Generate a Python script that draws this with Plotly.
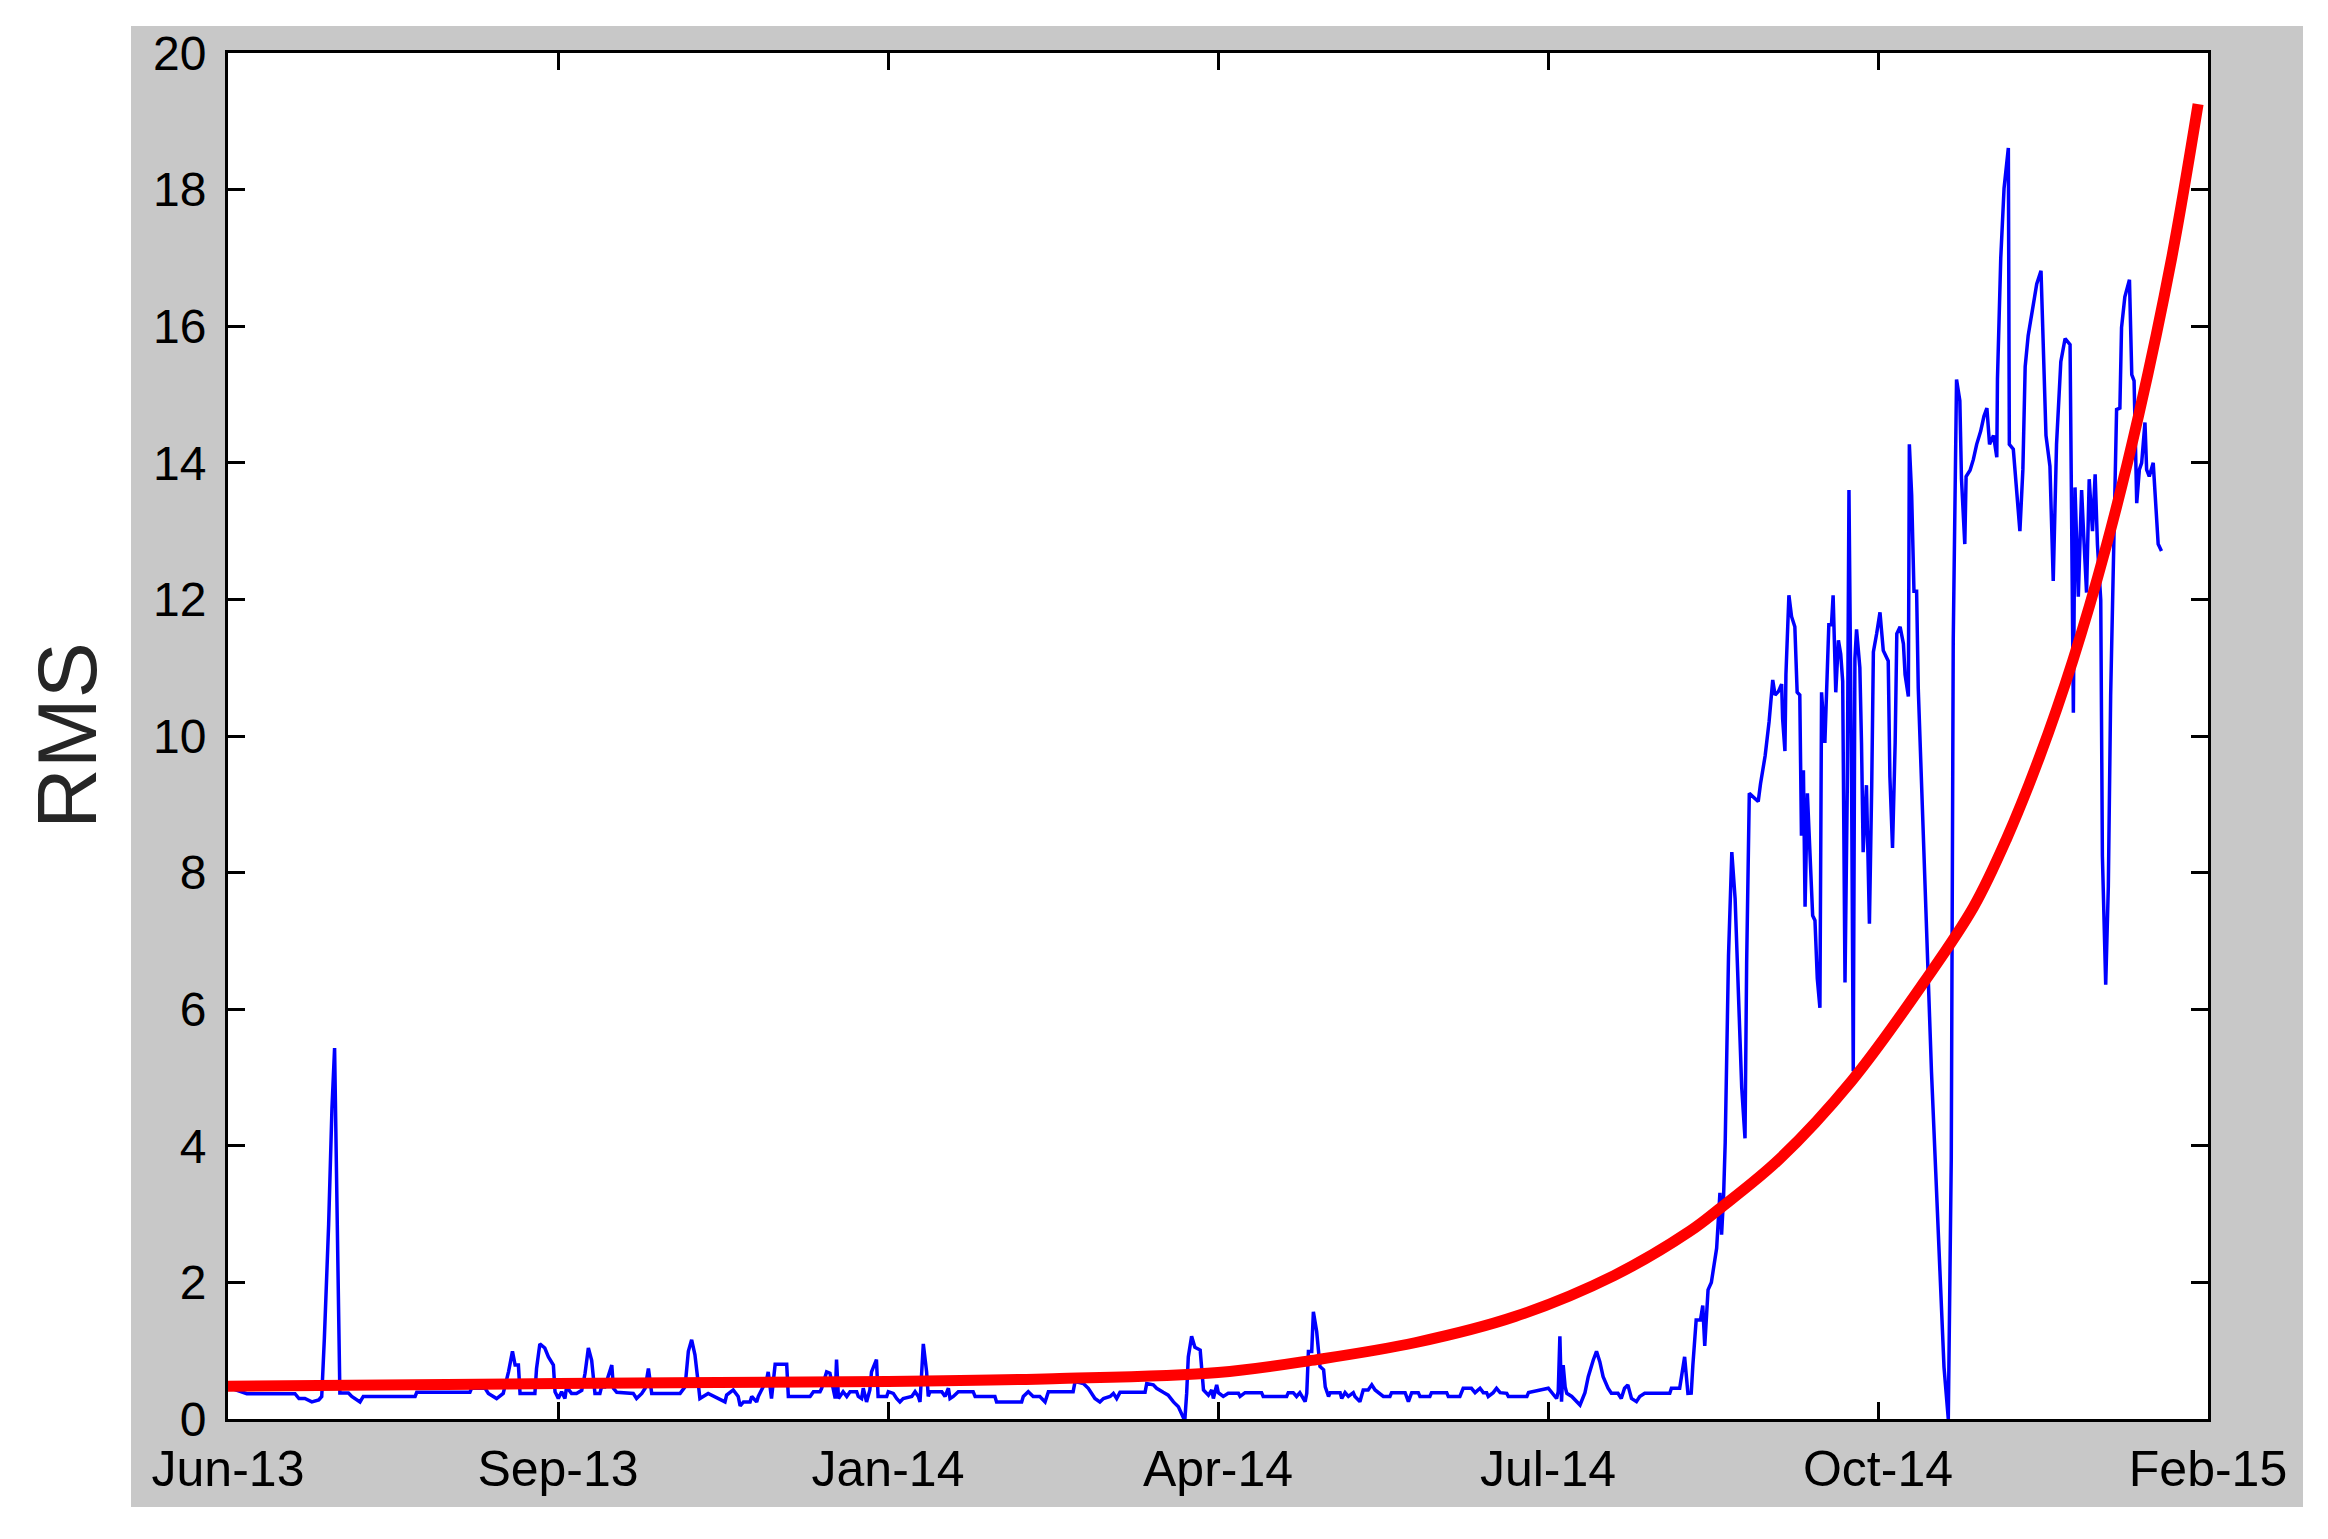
import pandas as pd
import plotly.graph_objects as go

# ---------------- data ----------------
start_date = "2013-06-16"          # day 0 of the series

blue_days = [
    1, 5.7, 15.2, 20.3, 21.5, 23.3, 25.4, 27.5, 28.4, 29.2, 30.5, 31.5, 32.3, 33.2, 33.9,
    36.5, 37.5, 40, 41, 56.7, 57.2, 73.3, 73.8, 77.9, 78.9, 81.4, 83.4, 85, 86.2, 87, 88,
    88.5, 93, 93.5, 94.5, 96, 97.1, 98.6, 99.1, 100.1, 101.1, 102.1, 102.6, 104.1, 105.6,
    107.2, 108.2, 109.2, 110.2, 111.2, 112.7, 113.2, 114.2, 116.3, 116.8, 117.8, 122.8,
    123.8, 125.4, 126.4, 127.4, 128.4, 137, 138.5, 139.5, 140.5, 141.5, 142.5, 143, 145.5,
    148.6, 150.6,
    151.1, 153.1, 154.6, 155.2, 156.2, 158.2, 158.7, 160.2, 160.7, 161.7, 163.2, 163.7,
    164.7, 165.8, 169.3, 169.8, 176.4, 177.4, 179.4, 179.9, 181.4, 182.4, 184, 184.4, 185,
    186.4, 187.5, 188.5, 190.5, 191, 192, 192.5, 193.5, 194.5, 195, 196.5, 197, 199.6,
    200.1, 201.6, 202.6, 203.6, 204.6, 207.2, 208.2, 209.2, 209.7, 210.7, 211.7, 212.2,
    212.7, 216.3, 217.3, 218.3, 218.8, 219.8, 221.3, 225.8, 226.4, 232.4, 232.9, 240.5,
    241, 242.5, 244, 246, 247.6, 248.6, 256.1, 256.7, 259.2, 260.7, 261.7, 262.7, 264.2,
    265.3, 267.3, 268.3, 269.3, 270.3, 277.9, 278.4, 280.4, 281.4, 283.4, 284.9, 286.5,
    288, 289.5, 290, 290.5, 291, 292, 293, 294.6, 295.6, 297.1, 298.1, 298.6, 299.6,
    300.1, 301.6, 303.1, 306.2, 306.7, 308.2, 313.2, 313.7, 320.8, 321.3, 322.8, 323.8,
    324.8, 326.4, 326.9, 327.4, 328.4, 328.9, 329.9, 330.9, 332, 332.5, 333.5, 334, 337,
    337.5, 338.5, 339.5, 341, 341.5, 343, 344, 345.5, 346.6, 347.6, 348.6, 350.1, 352.1,
    352.6, 356.7, 357.2, 357.7, 358.7, 360.7, 361.2, 364.2, 364.7, 369.3, 369.8, 373.3,
    374.3, 376.8, 377.9, 379.4, 380.4, 381.4, 381.9, 383.4, 384.4, 385.5, 387.5, 388,
    393.6, 394.1, 400.1, 401.1, 402.6, 403.1, 403.6, 404.1, 404.6, 405.2, 405.7, 407.2,
    408.7, 409.7, 411.2, 412.2, 413.7, 414.7, 415.7, 416.7, 418.2, 419.2, 421.2, 422.2,
    423.2, 424.2, 425.3, 426.8, 427.8, 429.3, 436.9, 437.4, 439.9, 440.4, 441.4, 442.4,
    443.4, 443.9, 444.9, 446.2, 446.9, 447.5, 448.5, 449.5, 451.1, 452.1, 452.6, 453.2,
    453.7, 454.7, 455.7, 456.7, 457.7, 458.7, 459.7, 460.2, 461, 462.2, 463.7, 464.4,
    465.8, 467, 468.1, 468.8, 469.8, 470.8, 471.1, 471.8, 472.1, 473, 473.8, 474.8, 475.5,
    476.3, 476.8, 477.4, 477.9, 478.6, 479.4, 480.2, 480.9, 481.6, 482.4, 482.9, 483.9,
    484.4, 485.1, 485.9, 486.4, 487.2, 488, 488.7, 489.3, 490, 490.7, 491.2, 492, 492.5,
    493, 493.5, 494.5, 495, 495.5, 496.5, 497.4, 498.1, 498.6, 499.6, 500.6, 501.6, 503.1,
    503.6, 504.4, 505.2, 505.7, 506.7, 507.7, 508.2, 509.2, 509.5, 510.2, 510.9, 511.7,
    512.2, 513.2, 514.2, 515.2, 516.2, 517.5, 518.7, 520, 521.3, 522.2, 522.8, 523.8,
    524.8, 525.3, 526.3, 526.7, 527.9, 528.9, 529.9, 531.1, 532.1, 533, 533.8, 535, 536,
    536.2, 537.2, 538.2, 539.5, 539.8, 541, 542, 543, 543.9, 544.6, 545.5, 546.9, 548.1,
    549.4, 550.1, 550.9, 552.1, 553.1, 554.1, 555.4, 556.7, 558.2, 559.2, 559.7, 560.7,
    561.7, 562.4, 563.2, 564, 565, 565.8, 566.5, 567.5, 568, 569, 569.8, 570.5, 571.3,
    572.3, 573.3, 573.8, 574.8, 576.2, 576.9, 577.6, 578.4, 579.2, 579.9, 580.9, 581.4,
    582.2, 583.4, 583.9, 584.9, 585.9,
]

blue_rms = [
    0.45, 0.37, 0.37, 0.37, 0.30, 0.30, 0.25, 0.28, 0.33, 1.18, 2.85, 4.55, 5.43, 2.85, 0.38,
    0.38, 0.33, 0.25, 0.33, 0.33, 0.39, 0.39, 0.45, 0.45, 0.375, 0.30, 0.375, 0.69, 0.99, 0.79, 0.79,
    0.375, 0.375, 0.74, 1.10, 1.04, 0.91, 0.79, 0.40, 0.30, 0.40, 0.30, 0.47, 0.375, 0.375,
    0.42, 0.67, 1.04, 0.86, 0.375, 0.375, 0.47, 0.47, 0.79, 0.45, 0.39, 0.375,
    0.30, 0.375, 0.45, 0.74, 0.375, 0.375, 0.47, 0.99, 1.16, 0.94, 0.52, 0.30, 0.375,
    0.30, 0.25,
    0.35, 0.425, 0.33, 0.19, 0.25, 0.25, 0.33, 0.25, 0.33, 0.425, 0.57, 0.69,
    0.30, 0.80, 0.80, 0.33, 0.33, 0.40, 0.40, 0.45, 0.69, 0.67, 0.30, 0.87, 0.30,
    0.40, 0.33, 0.40, 0.40, 0.33, 0.30, 0.45, 0.25, 0.425, 0.69, 0.87, 0.33, 0.33,
    0.40, 0.375, 0.30, 0.25, 0.30, 0.33, 0.40, 0.33, 0.25, 1.10, 0.69, 0.33,
    0.40, 0.40, 0.33, 0.45, 0.30, 0.33, 0.40, 0.40, 0.33, 0.33, 0.25, 0.25,
    0.33, 0.40, 0.33, 0.33, 0.25, 0.40, 0.40, 0.55, 0.52, 0.45, 0.375, 0.30, 0.25,
    0.30, 0.33, 0.375, 0.30, 0.39, 0.39, 0.52, 0.50, 0.45, 0.39, 0.35, 0.25,
    0.18, 0.02, 0.02, 0.375, 0.91, 1.21, 1.05, 1.01, 0.425, 0.35, 0.425, 0.30, 0.50,
    0.386, 0.33, 0.376, 0.376, 0.33, 0.386, 0.386, 0.33, 0.33, 0.386, 0.386, 0.33,
    0.386, 0.254, 0.376, 0.99, 0.99, 1.57, 1.28, 0.77, 0.72, 0.47, 0.33, 0.386, 0.386,
    0.30, 0.386, 0.33, 0.386, 0.33, 0.254, 0.425, 0.425, 0.50, 0.425, 0.386, 0.33, 0.33,
    0.386, 0.386, 0.33, 0.254, 0.386, 0.386, 0.33, 0.33, 0.386, 0.386, 0.33, 0.33,
    0.45, 0.45, 0.386, 0.45, 0.386, 0.386, 0.33, 0.386, 0.45, 0.386, 0.376, 0.33,
    0.33, 0.386, 0.45, 0.386, 0.30, 0.40, 1.21, 0.254, 0.79, 0.47, 0.376, 0.33,
    0.254, 0.205, 0.386, 0.62, 0.86, 0.99, 0.84, 0.62, 0.45, 0.376, 0.376, 0.30,
    0.45, 0.50, 0.30, 0.254, 0.33, 0.376, 0.376, 0.45, 0.45, 0.62, 0.91, 0.376,
    0.38, 0.79, 1.45, 1.45, 1.66, 1.07, 1.89, 2.00, 2.50, 3.31, 2.70, 3.25,
    4.05, 6.78, 8.30, 7.62, 6.20, 4.85, 4.11, 6.69, 9.16, 9.10, 9.04, 9.30,
    9.71, 10.21, 10.82, 10.60, 10.65, 10.76, 10.25, 9.78, 10.90, 12.06, 11.75, 11.60, 10.64,
    10.60, 8.54, 9.50, 7.50, 9.16, 8.30, 7.37, 7.30, 6.45, 6.02, 10.64, 9.90,
    10.64, 11.63, 11.63, 12.06, 10.64, 11.40, 11.20, 10.80, 6.39, 9.28, 13.60, 9.28, 5.09,
    11.13, 11.56, 11.00, 9.90, 8.30, 9.28, 7.25, 9.28, 11.23, 11.50, 11.81, 11.25, 11.10,
    9.41, 8.36, 9.90, 11.50, 11.60, 11.35, 10.90, 10.58, 14.27, 13.53, 12.12, 12.12,
    10.70, 9.28, 7.87, 6.57, 5.09, 3.61, 2.15, 0.76, 0.0, 3.80, 11.41, 15.22,
    14.91, 13.76, 12.81, 13.80, 13.89, 14.05, 14.27, 14.46, 14.68, 14.80, 14.27, 14.40, 14.08,
    15.22, 17.00, 18.02, 18.61, 14.27, 14.20, 13.51, 13.00, 13.90, 15.41, 15.86, 16.28, 16.62,
    16.81, 15.67, 14.40, 13.95, 12.27, 14.27, 15.48, 15.82, 15.73, 10.34, 13.64, 12.04,
    13.60, 12.87, 12.10, 13.76, 13.00, 13.83, 12.80, 11.99, 8.24, 6.36, 7.80, 10.59, 12.49,
    14.78, 14.80, 15.98, 16.43, 16.68, 15.29, 15.20, 13.41, 13.90, 14.00, 14.59, 13.90,
    13.80, 14.00, 13.57, 12.81, 12.71,
]

red_days = [0, 100, 200, 250, 300, 330, 360, 390, 420, 443, 452, 470, 492, 514,
            529, 539, 549, 559, 569, 579, 589, 597]
red_rms = [0.48, 0.52, 0.55, 0.59, 0.68, 0.87, 1.12, 1.50, 2.10, 2.75, 3.08, 3.80,
           4.95, 6.40, 7.50, 8.50, 9.70, 11.10, 12.75, 14.70, 17.00, 19.25]

x_tick_dates = ["2013-06-16", "2013-09-24", "2014-01-02", "2014-04-12",
                "2014-07-21", "2014-10-29", "2015-02-06"]
x_tick_labels = ["Jun-13", "Sep-13", "Jan-14", "Apr-14", "Jul-14", "Oct-14", "Feb-15"]
y_tick_values = [0, 2, 4, 6, 8, 10, 12, 14, 16, 18, 20]
y_title = "RMS"

# ---------------- figure ----------------
t0 = pd.Timestamp(start_date)
blue_x = [t0 + pd.Timedelta(days=d) for d in blue_days]
red_x = [t0 + pd.Timedelta(days=d) for d in red_days]

W, H = 2328, 1539
L, R, T, B = 228, 120, 53, 120
pw, ph = W - L - R, H - T - B

def px_x(p):
    return (p - L) / pw

def px_y(p):
    return (H - B - p) / ph

fig = go.Figure()
fig.add_trace(go.Scatter(x=blue_x, y=blue_rms, mode="lines",
                         line=dict(color="#0000FF", width=3.5), showlegend=False))
fig.add_trace(go.Scatter(x=red_x, y=red_rms, mode="lines",
                         line=dict(color="#FF0000", width=11, shape="spline", smoothing=1.0),
                         showlegend=False))

font_family = "Arial, Liberation Sans, Helvetica, sans-serif"

fig.update_layout(
    width=W, height=H,
    margin=dict(l=L, r=R, t=T, b=B, pad=0),
    paper_bgcolor="white",
    plot_bgcolor="rgba(0,0,0,0)",
    font=dict(family=font_family, color="black"),
    shapes=[
        dict(type="rect", xref="paper", yref="paper",
             x0=px_x(131), x1=px_x(2303), y0=px_y(1507), y1=px_y(26),
             fillcolor="#C8C8C8", line=dict(width=0), layer="below"),
        dict(type="rect", xref="paper", yref="paper",
             x0=0, x1=1, y0=0, y1=1,
             fillcolor="white", line=dict(width=0), layer="below"),
    ],
    annotations=[
        dict(text=y_title, xref="paper", yref="paper", x=px_x(67), y=0.5,
             textangle=-90, showarrow=False, xanchor="center", yanchor="middle",
             font=dict(size=84, color="#262626", family=font_family)),
    ],
)

fig.update_xaxes(
    type="date",
    range=[x_tick_dates[0], x_tick_dates[-1]],
    tickmode="array", tickvals=x_tick_dates, ticktext=x_tick_labels,
    ticks="inside", ticklen=17, tickwidth=3, tickcolor="black",
    showline=True, linecolor="black", linewidth=3, mirror="ticks",
    showgrid=False, zeroline=False,
    tickfont=dict(size=50, color="black", family=font_family),
    ticklabelstandoff=4,
)
fig.update_yaxes(
    range=[0, 20],
    tickmode="array", tickvals=y_tick_values,
    ticktext=[str(v) for v in y_tick_values],
    ticks="inside", ticklen=17, tickwidth=3, tickcolor="black",
    showline=True, linecolor="black", linewidth=3, mirror="ticks",
    showgrid=False, zeroline=False,
    tickfont=dict(size=48, color="black", family=font_family),
    ticklabelstandoff=9,
)

fig.write_html("out.html",
               config={"displayModeBar": False},
               post_script="document.body.style.margin='0px';document.body.style.overflow='hidden';")
